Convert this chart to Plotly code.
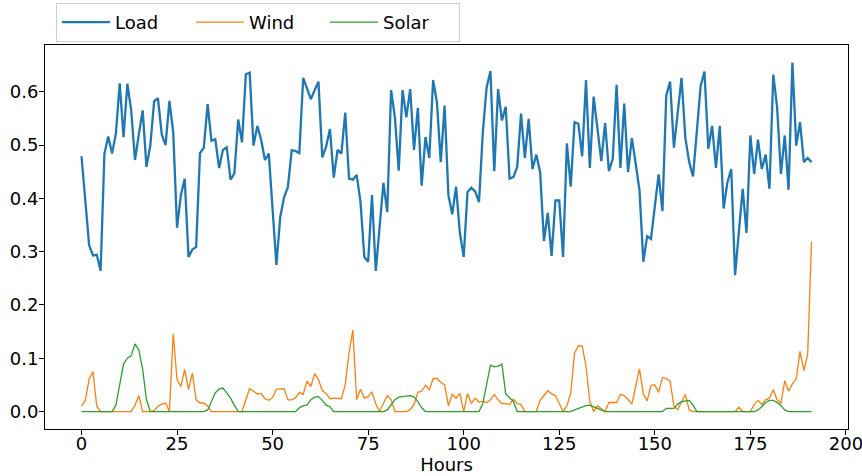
import plotly.graph_objects as go

hours = list(range(192))

load = [
    0.479, 0.390, 0.312, 0.293, 0.294, 0.264, 0.484, 0.516, 0.484, 0.522,
    0.616, 0.515, 0.615, 0.565, 0.472, 0.520, 0.565, 0.459, 0.499, 0.582,
    0.588, 0.520, 0.500, 0.583, 0.524, 0.345, 0.406, 0.437, 0.290, 0.304,
    0.309, 0.485, 0.495, 0.577, 0.508, 0.511, 0.457, 0.491, 0.496, 0.435,
    0.447, 0.548, 0.505, 0.633, 0.636, 0.499, 0.536, 0.510, 0.472, 0.484,
    0.380, 0.275, 0.365, 0.402, 0.421, 0.490, 0.489, 0.485, 0.626, 0.605,
    0.586, 0.603, 0.619, 0.477, 0.497, 0.530, 0.439, 0.491, 0.484, 0.561,
    0.437, 0.435, 0.444, 0.393, 0.290, 0.281, 0.406, 0.264, 0.346, 0.429,
    0.374, 0.603, 0.552, 0.452, 0.603, 0.552, 0.605, 0.491, 0.570, 0.424,
    0.515, 0.476, 0.622, 0.580, 0.468, 0.574, 0.406, 0.370, 0.422, 0.335,
    0.290, 0.412, 0.420, 0.413, 0.393, 0.524, 0.608, 0.639, 0.451, 0.605,
    0.546, 0.572, 0.437, 0.440, 0.459, 0.559, 0.476, 0.549, 0.455, 0.482,
    0.449, 0.320, 0.373, 0.292, 0.396, 0.396, 0.290, 0.503, 0.422, 0.543,
    0.540, 0.479, 0.622, 0.457, 0.591, 0.533, 0.470, 0.541, 0.451, 0.474,
    0.613, 0.457, 0.578, 0.449, 0.513, 0.465, 0.415, 0.281, 0.329, 0.324,
    0.384, 0.445, 0.376, 0.593, 0.619, 0.495, 0.561, 0.626, 0.513, 0.468,
    0.441, 0.530, 0.611, 0.638, 0.493, 0.536, 0.457, 0.536, 0.381, 0.430,
    0.455, 0.256, 0.331, 0.418, 0.335, 0.518, 0.446, 0.510, 0.455, 0.482,
    0.418, 0.632, 0.571, 0.446, 0.518, 0.416, 0.655, 0.499, 0.543, 0.468,
    0.476, 0.468,
]

wind = [
    0.010, 0.021, 0.061, 0.075, 0.010, 0.000, 0.000, 0.000, 0.000, 0.000,
    0.000, 0.000, 0.000, 0.000, 0.012, 0.030, 0.000, 0.000, 0.000, 0.002,
    0.010, 0.014, 0.016, 0.000, 0.146, 0.060, 0.047, 0.079, 0.041, 0.072,
    0.022, 0.016, 0.016, 0.010, 0.000, 0.000, 0.000, 0.000, 0.000, 0.000,
    0.000, 0.000, 0.000, 0.022, 0.043, 0.038, 0.033, 0.034, 0.024, 0.021,
    0.026, 0.042, 0.043, 0.043, 0.022, 0.022, 0.026, 0.036, 0.032, 0.057,
    0.047, 0.071, 0.060, 0.039, 0.034, 0.024, 0.025, 0.025, 0.024, 0.050,
    0.110, 0.153, 0.022, 0.042, 0.025, 0.028, 0.037, 0.014, 0.000, 0.015,
    0.030, 0.023, 0.000, 0.000, 0.000, 0.000, 0.004, 0.013, 0.036, 0.038,
    0.049, 0.041, 0.062, 0.062, 0.055, 0.050, 0.011, 0.032, 0.025, 0.034,
    0.000, 0.034, 0.015, 0.025, 0.018, 0.019, 0.017, 0.022, 0.032, 0.022,
    0.015, 0.015, 0.013, 0.023, 0.015, 0.013, 0.000, 0.000, 0.000, 0.000,
    0.021, 0.030, 0.039, 0.033, 0.030, 0.015, 0.000, 0.011, 0.034, 0.110,
    0.123, 0.123, 0.085, 0.019, 0.000, 0.011, 0.006, 0.000, 0.017, 0.017,
    0.017, 0.032, 0.030, 0.023, 0.014, 0.047, 0.080, 0.033, 0.020, 0.049,
    0.050, 0.036, 0.064, 0.062, 0.057, 0.010, 0.003, 0.019, 0.032, 0.003,
    0.000, 0.000, 0.000, 0.000, 0.000, 0.000, 0.000, 0.000, 0.000, 0.000,
    0.000, 0.000, 0.008, 0.000, 0.000, 0.000, 0.013, 0.021, 0.013, 0.022,
    0.025, 0.041, 0.022, 0.015, 0.058, 0.038, 0.052, 0.061, 0.113, 0.077,
    0.107, 0.318,
]

solar = [
    0.000, 0.000, 0.000, 0.000, 0.000, 0.000, 0.000, 0.000, 0.000, 0.012,
    0.050, 0.089, 0.100, 0.105, 0.127, 0.116, 0.079, 0.022, 0.000, 0.000,
    0.000, 0.000, 0.000, 0.000, 0.000, 0.000, 0.000, 0.000, 0.000, 0.000,
    0.000, 0.000, 0.000, 0.003, 0.019, 0.035, 0.042, 0.044, 0.035, 0.025,
    0.012, 0.000, 0.000, 0.000, 0.000, 0.000, 0.000, 0.000, 0.000, 0.000,
    0.000, 0.000, 0.000, 0.000, 0.000, 0.000, 0.000, 0.007, 0.011, 0.012,
    0.022, 0.027, 0.028, 0.021, 0.012, 0.009, 0.000, 0.000, 0.000, 0.000,
    0.000, 0.000, 0.000, 0.000, 0.000, 0.000, 0.000, 0.000, 0.000, 0.000,
    0.003, 0.012, 0.022, 0.027, 0.028, 0.028, 0.030, 0.027, 0.019, 0.007,
    0.000, 0.000, 0.000, 0.000, 0.000, 0.000, 0.000, 0.000, 0.000, 0.000,
    0.000, 0.000, 0.000, 0.000, 0.000, 0.015, 0.050, 0.087, 0.084, 0.085,
    0.089, 0.033, 0.026, 0.019, 0.000, 0.000, 0.000, 0.000, 0.000, 0.000,
    0.000, 0.000, 0.000, 0.000, 0.000, 0.000, 0.000, 0.000, 0.000, 0.003,
    0.006, 0.009, 0.011, 0.012, 0.009, 0.006, 0.003, 0.000, 0.000, 0.000,
    0.000, 0.000, 0.000, 0.000, 0.000, 0.000, 0.000, 0.000, 0.000, 0.000,
    0.000, 0.000, 0.000, 0.006, 0.006, 0.006, 0.014, 0.018, 0.020, 0.021,
    0.012, 0.000, 0.000, 0.000, 0.000, 0.000, 0.000, 0.000, 0.000, 0.000,
    0.000, 0.000, 0.000, 0.000, 0.000, 0.000, 0.000, 0.003, 0.009, 0.017,
    0.021, 0.021, 0.017, 0.011, 0.003, 0.000, 0.000, 0.000, 0.000, 0.000,
    0.000, 0.000,
]

x_ticks = [0, 25, 50, 75, 100, 125, 150, 175, 200]
y_ticks = [0.0, 0.1, 0.2, 0.3, 0.4, 0.5, 0.6]

FONT = "DejaVu Sans"
W, H = 862, 476

fig = go.Figure()
fig.add_trace(go.Scatter(x=hours, y=load, mode="lines", name="Load",
                         line=dict(color="#1f77b4", width=2.3)))
fig.add_trace(go.Scatter(x=hours, y=wind, mode="lines", name="Wind",
                         line=dict(color="#ff7f0e", width=1.3)))
fig.add_trace(go.Scatter(x=hours, y=solar, mode="lines", name="Solar",
                         line=dict(color="#2ca02c", width=1.3)))

axis_common = dict(
    showgrid=False, zeroline=False, showline=True, mirror=True,
    linecolor="black", linewidth=1, ticks="outside", ticklen=5,
    tickwidth=1, tickcolor="black", automargin=False,
    ticklabeloverflow="allow",
    tickfont=dict(family=FONT, size=18, color="black"),
)

fig.update_xaxes(range=[-9.55, 200.55], tickvals=x_ticks,
                 ticktext=[str(t) for t in x_ticks],
                 ticklabelstandoff=-7,
                 title=dict(text="Hours", standoff=4,
                            font=dict(family=FONT, size=18, color="black")),
                 **axis_common)
fig.update_yaxes(range=[-0.03275, 0.68775], tickvals=y_ticks,
                 ticktext=[f"{t:.1f}" for t in y_ticks],
                 ticklabelstandoff=-3, **axis_common)

fig.update_layout(
    width=W, height=H,
    margin=dict(l=45, r=14, t=45, b=46.5, autoexpand=False),
    plot_bgcolor="white", paper_bgcolor="white",
    font=dict(family=FONT, color="black"),
    legend=dict(
        orientation="h", xref="container", yref="container",
        x=56 / W, y=1 - 3 / H, xanchor="left", yanchor="top",
        bordercolor="#d0d0d0", borderwidth=1, bgcolor="white",
        font=dict(family=FONT, size=18, color="black"),
        itemwidth=48, entrywidth=71, entrywidthmode="pixels",
    ),
)

fig.write_html("out.html")
